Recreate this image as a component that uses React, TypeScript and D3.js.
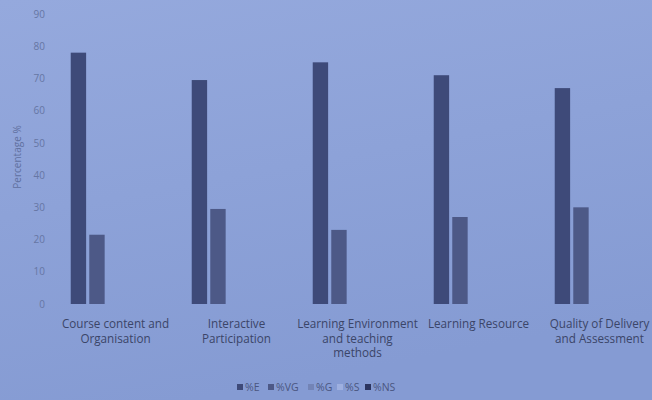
import React, { useEffect, useRef } from 'react';
import * as d3 from 'd3';

const categories = [
	['Course content and', 'Organisation'],
	['Interactive', 'Participation'],
	['Learning Environment', 'and teaching', 'methods'],
	['Learning Resource'],
	['Quality of Delivery', 'and Assessment']
];
const seriesNames = ['%E', '%VG', '%G', '%S', '%NS'];
const valuesE = [78, 69.5, 75, 71, 67];
const valuesVG = [21.5, 29.5, 23, 27, 30];
const valuesG = [0, 0, 0, 0, 0];
const valuesS = [0, 0, 0, 0, 0];
const valuesNS = [0, 0, 0, 0, 0];
const yTicks = [0, 10, 20, 30, 40, 50, 60, 70, 80, 90];

const seriesColors = ['#3e4a79', '#4d5987', '#7384b6', '#9eb0e0', '#2c3560'];

export default () => {
	const ref = useRef(null);

	useEffect(() => {
		const svg = d3.select(ref.current);
		svg.selectAll('*').remove();

		const width = 652;
		const height = 400;
		const font = '"Open Sans", Lato, sans-serif';

		// background, a bit lighter at the top like the photo
		const defs = svg.append('defs');
		const grad = defs.append('linearGradient')
			.attr('id', 'bg').attr('x1', 0).attr('y1', 0).attr('x2', 0.3).attr('y2', 1);
		grad.append('stop').attr('offset', '0%').attr('stop-color', '#95a9dd');
		grad.append('stop').attr('offset', '100%').attr('stop-color', '#859bd3');
		svg.append('rect').attr('width', width).attr('height', height).attr('fill', 'url(#bg)');

		const allSeries = [valuesE, valuesVG, valuesG, valuesS, valuesNS];
		const keys = categories.map((c, i) => String(i));

		const x0 = d3.scaleBand().domain(keys).range([55, 660]);
		const x1 = d3.scaleBand().domain(seriesNames)
			.range([x0.bandwidth() * 0.13, x0.bandwidth() * 0.87])
			.paddingInner(0.17);
		const y = d3.scaleLinear().domain([0, 90]).range([304, 14]);

		// y axis labels only, no lines
		const yAxis = svg.append('g')
			.attr('transform', 'translate(45,0)')
			.call(d3.axisLeft(y).tickValues(yTicks).tickSize(0).tickPadding(0));
		yAxis.select('.domain').remove();
		yAxis.selectAll('text')
			.attr('fill', '#6676a4')
			.style('font-family', font)
			.style('font-size', '10px');

		svg.append('text')
			.attr('transform', 'translate(21,157) rotate(-90)')
			.attr('text-anchor', 'middle')
			.attr('fill', '#6070a0')
			.style('font-family', font)
			.style('font-size', '10px')
			.text('Percentage %');

		// bars
		allSeries.forEach((vals, s) => {
			svg.append('g')
				.selectAll('rect')
				.data(vals)
				.join('rect')
				.attr('x', (d, i) => x0(keys[i]) + x1(seriesNames[s]))
				.attr('y', d => y(d))
				.attr('width', x1.bandwidth())
				.attr('height', d => y(0) - y(d))
				.attr('fill', seriesColors[s]);
		});

		// category labels
		const labels = svg.append('g');
		categories.forEach((lines, i) => {
			const t = labels.append('text')
				.attr('x', x0(keys[i]) + x0.bandwidth() / 2)
				.attr('y', 328)
				.attr('text-anchor', 'middle')
				.attr('fill', '#3b4568')
				.style('font-family', font)
				.style('font-size', '11.7px');
			lines.forEach((line, j) => {
				t.append('tspan')
					.attr('x', x0(keys[i]) + x0.bandwidth() / 2)
					.attr('dy', j === 0 ? 0 : 14.5)
					.text(line);
			});
		});

		// legend
		const legendX = d3.scaleOrdinal().domain(seriesNames).range([237, 268, 308, 337, 365]);
		const legend = svg.append('g');
		seriesNames.forEach((name, s) => {
			legend.append('rect')
				.attr('x', legendX(name))
				.attr('y', 384)
				.attr('width', 6)
				.attr('height', 6)
				.attr('fill', seriesColors[s]);
			legend.append('text')
				.attr('x', legendX(name) + 8)
				.attr('y', 391)
				.attr('fill', '#4a5680')
				.style('font-family', font)
				.style('font-size', '10.5px')
				.text(name);
		});
	}, []);

	return (
		<svg ref={ref} width={652} height={400}
			style={{ position: 'absolute', left: 0, top: 0, display: 'block' }} />
	);
};
